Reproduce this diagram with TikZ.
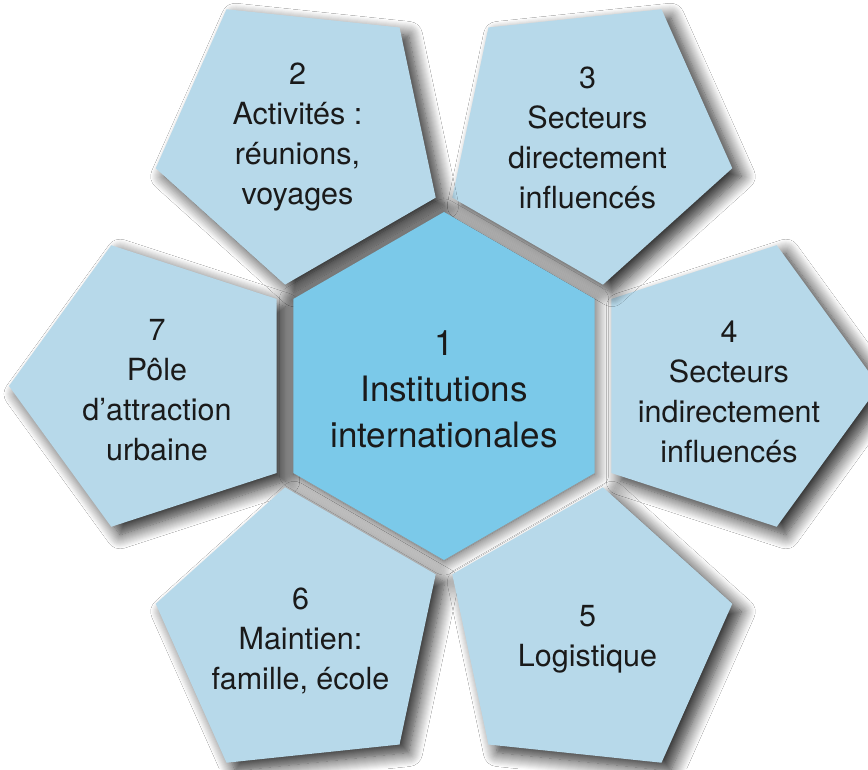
\documentclass[tikz,border=0pt]{standalone}
\usepackage{fontspec}
\setmainfont{TeX Gyre Heros}
\usetikzlibrary{calc,shadows.blur}
\definecolor{pentblue}{HTML}{B7D9EA}
\definecolor{hexblue}{HTML}{7BC9E9}
\definecolor{txtcol}{HTML}{1A1A1A}
\begin{document}
\begin{tikzpicture}[x=1pt,y=1pt,
  pent/.style={fill=pentblue, blur shadow={shadow xshift=9pt, shadow yshift=-8pt, shadow blur radius=14pt, shadow blur steps=14, shadow opacity=85}},
  hexa/.style={fill=hexblue, blur shadow={shadow xshift=0pt, shadow yshift=-1pt, shadow blur radius=14pt, shadow blur steps=14, shadow opacity=80}},
  ptext/.style={align=center, text=txtcol, font=\fontsize{30.5}{40}\selectfont},
  htext/.style={align=center, text=txtcol, font=\fontsize{35}{46}\selectfont}]
\useasboundingbox (0,0) rectangle (868,769);
\fill[white] (0,0) rectangle (868,769);
\coordinate (H) at (444,383);
\foreach \a/\n in {0/4,60/3,120/2,180/7,240/6,300/5}{
  \coordinate (c\n) at ($(H)+(\a:287)$);
  \path[pent] ($(c\n)+(\a:148)$) -- ($(c\n)+(\a+72:148)$) -- ($(c\n)+(\a+144:148)$)
     -- ($(c\n)+(\a+216:148)$) -- ($(c\n)+(\a+288:148)$) -- cycle;
}
\path[hexa] ($(H)+(30:174)$) -- ($(H)+(90:174)$) -- ($(H)+(150:174)$)
   -- ($(H)+(210:174)$) -- ($(H)+(270:174)$) -- ($(H)+(330:174)$) -- cycle;
\node[htext] (t1) at ($(H)+(0,-3)$) {1\\Institutions\\internationales};
\node[ptext] (t2) at ($(c2)+(-3,0)$) {2\\Activités :\\réunions,\\voyages};
\node[ptext] (t3) at (c3) {3\\Secteurs\\directement\\influencés};
\node[ptext] (t4) at ($(c4)+(-2,-6)$) {4\\Secteurs\\indirectement\\influencés};
\node[ptext] (t5) at ($(c5)+(0,-5)$) {5\\Logistique};
\node[ptext] (t6) at ($(c6)+(0,-6)$) {6\\Maintien:\\famille, école};
\node[ptext] (t7) at ($(c7)+(0,-4)$) {7\\Pôle\\d’attraction\\urbaine};
\end{tikzpicture}
\end{document}
